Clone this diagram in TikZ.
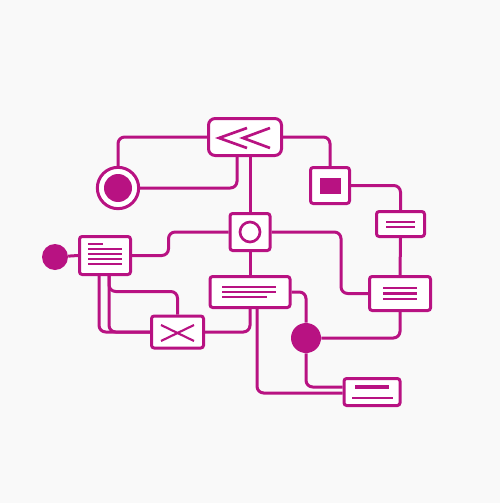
\documentclass[tikz,border=0pt]{standalone}
\usepackage{xcolor}
\usetikzlibrary{calc}
\definecolor{wire}{RGB}{184,18,130}
\definecolor{paper}{RGB}{249,249,249}

\begin{document}
\begin{tikzpicture}[x=0.75pt,y=0.75pt,yscale=-1,xscale=1,
  box/.style={draw=wire,line width=2.25pt,fill=white,rounded corners=2pt,inner sep=0pt},
  dot/.style={circle,fill=wire,inner sep=0pt},
  link/.style={draw=wire,line width=2.25pt,rounded corners=5pt},
  bar/.style={draw=wire,line width=1.6pt}]
%set diagram frame 500 x 503
\fill[paper] (0,0) rectangle (500,503);
\useasboundingbox (0,0) rectangle (500,503);

% Boxes
\node[box,rounded corners=5pt,minimum width=54.75pt,minimum height=27.75pt] (chev) at (245,137) {};
\node[circle,draw=wire,line width=2.25pt,fill=white,inner sep=0pt,minimum size=31pt] (tgt) at (118,188) {};
\node[box,minimum width=30pt,minimum height=27.75pt] (sq) at (250,232) {};
\node[box,minimum width=29.25pt,minimum height=27pt] (fsq) at (330,185.5) {};
\node[box,minimum width=36pt,minimum height=18.75pt] (eqb) at (400.5,224) {};
\node[box,minimum width=45.75pt,minimum height=25.5pt] (rdoc) at (400,293.5) {};
\node[box,minimum width=60pt,minimum height=23.25pt] (cdoc) at (250,292) {};
\node[box,minimum width=38.25pt,minimum height=28.5pt] (ldoc) at (105,255.5) {};
\node[box,minimum width=39pt,minimum height=24pt] (xbox) at (177.5,332) {};
\node[box,minimum width=42pt,minimum height=20.25pt] (bdoc) at (372,392) {};
\node[dot,minimum size=19.5pt] (lend) at (55,257) {};
\node[dot,minimum size=22.5pt] (hub) at (306,338) {};

% Connectors
\draw[link] (tgt.north) |- (chev.west);
\draw[link] (tgt.east) -| ($(chev.south)+(-8,0)$);
\draw[link] (sq.north) -- (sq.north |- chev.south);
\draw[link] (chev.east) -| (fsq.north);
\draw[link] (fsq.east) -| (eqb.north);
\draw[link] (eqb.south) -- (rdoc.north);
\draw[link] (sq.east) -| ($(rdoc.west)+(-27,0)$) -- (rdoc.west);
\draw[link] (ldoc.east) -| ($(sq.west)+(-60,0)$) -- (sq.west);
\draw[link] (sq.south) -- (cdoc.north);
\draw[link] (cdoc.east) -| (hub.north);
\draw[link] (hub.east) -| (rdoc.south);
\draw[link] (hub.south) |- ($(bdoc.west)+(0,-5)$);
\draw[link] ($(cdoc.south)+(7,0)$) |- ($(bdoc.west)+(0,1)$);
\draw[link] (cdoc.south) |- (xbox.east);
\draw[link] ($(ldoc.south)+(-6,0)$) |- (xbox.west);
\draw[link] ($(ldoc.south)+(4,0)$) |- (xbox.west);
\draw[link] ($(ldoc.south)+(4,0)$) |- ($(xbox.north)+(0,-23)$) -- (xbox.north);
\draw[link] (lend) -- (ldoc.west);

% Glyphs
\fill[wire] (tgt.center) circle (14);
\draw[bar,line width=2pt] (247,128) -- (219,138) -- (247,148);
\draw[bar,line width=2pt] (270,128) -- (243,138) -- (270,148);
\draw[bar,line width=2pt] (sq.center) circle (10);
\fill[wire] (320,178) rectangle (341,194);
\draw[bar] (386,222) -- (415,222);
\draw[bar] (386,227) -- (415,227);
\draw[bar] (383,288) -- (417,288);
\draw[bar] (383,293.5) -- (417,293.5);
\draw[bar] (383,299) -- (417,299);
\draw[bar] (222,287) -- (276,287);
\draw[bar] (222,292) -- (276,292);
\draw[bar] (222,297) -- (267,297);
\draw[bar] (88,244) -- (103,244);
\draw[bar] (88,249) -- (122,249);
\draw[bar] (88,254) -- (122,254);
\draw[bar] (88,259) -- (122,259);
\draw[bar] (88,264) -- (122,264);
\draw[bar] (161,325) -- (194,341);
\draw[bar] (161,341) -- (194,325);
\draw[bar,line width=2.4pt] (355,387) -- (389,387);
\draw[bar] (352,398) -- (393,398);

\end{tikzpicture}
\end{document}
